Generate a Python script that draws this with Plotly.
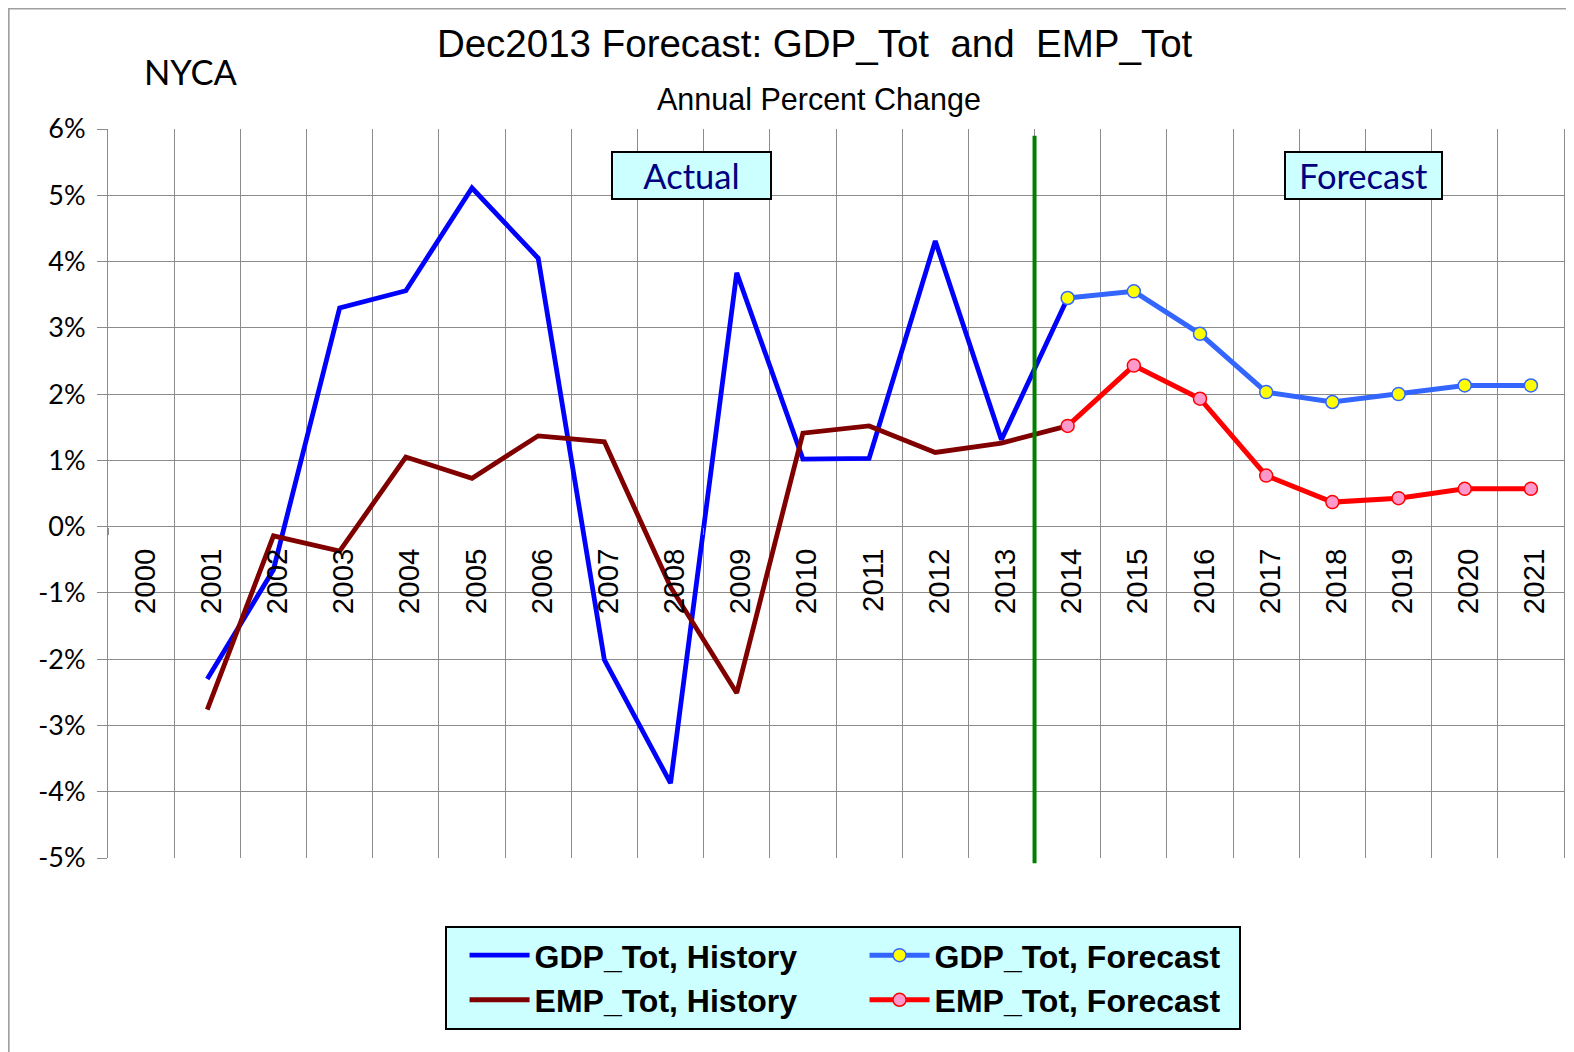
import plotly.graph_objects as go

# ---------------- data ----------------
years = ["2000", "2001", "2002", "2003", "2004", "2005", "2006", "2007", "2008", "2009", "2010",
         "2011", "2012", "2013", "2014", "2015", "2016", "2017", "2018", "2019", "2020", "2021"]

gdp_history = [None, -2.30, -0.65, 3.30, 3.56, 5.11, 4.05, -2.01, -3.87, 3.83, 1.02,
               1.03, 4.31, 1.31, 3.45, None, None, None, None, None, None, None]
emp_history = [None, -2.76, -0.14, -0.37, 1.05, 0.73, 1.37, 1.28, -0.91, -2.51, 1.41,
               1.52, 1.12, 1.26, 1.52, None, None, None, None, None, None, None]
gdp_forecast = [None, None, None, None, None, None, None, None, None, None, None,
                None, None, None, 3.45, 3.55, 2.91, 2.03, 1.88, 2.00, 2.13, 2.13]
emp_forecast = [None, None, None, None, None, None, None, None, None, None, None,
                None, None, None, 1.52, 2.43, 1.93, 0.77, 0.37, 0.43, 0.57, 0.57]

y_tick_vals = [-5, -4, -3, -2, -1, 0, 1, 2, 3, 4, 5, 6]
y_tick_text = ["-5%", "-4%", "-3%", "-2%", "-1%", "0%", "1%", "2%", "3%", "4%", "5%", "6%"]
y_min, y_max = -5, 6
split_between = ("2013", "2014")   # actual / forecast divider

title_text = "Dec2013 Forecast: GDP_Tot\u00a0\u00a0and\u00a0\u00a0EMP_Tot"
subtitle_text = "Annual Percent Change"
region_text = "NYCA"

# ---------------- layout geometry (page px; html body has an 8px margin) ----------------
OFF = 8
W, H = 1574 - OFF, 1052 - OFF
PL, PR, PT, PB = 108.3, 1563.6, 129.3, 857.7          # plot area in page px
L, T = PL - OFF, PT - OFF
R, B = W - (PR - OFF), H - (PB - OFF)

CALI = "Lato, Carlito, Calibri, 'Open Sans', sans-serif"
NARROW = "'Liberation Sans Narrow', 'Arial Narrow', 'Liberation Sans', Arial, sans-serif"
ARIAL = "'Liberation Sans', Arial, sans-serif"

plot_h = PB - PT
plot_w = PR - PL

def py(pix):   # page y px -> paper fraction
    return (PB - pix) / plot_h

def px(pix):   # page x px -> paper fraction
    return (pix - PL) / plot_w

fig = go.Figure()

fig.add_trace(go.Scatter(
    x=years, y=gdp_history, name="GDP_Tot, History", mode="lines",
    line=dict(color="#0000FF", width=4.8), legendgroup="hist", legendwidth=305))
fig.add_trace(go.Scatter(
    x=years, y=emp_history, name="EMP_Tot, History", mode="lines",
    line=dict(color="#800000", width=4.8), legendgroup="hist", legendwidth=305))
fig.add_trace(go.Scatter(
    x=years, y=gdp_forecast, name="GDP_Tot, Forecast", mode="lines+markers",
    line=dict(color="#3366FF", width=5),
    marker=dict(symbol="circle", size=13, color="#FFFF00", line=dict(color="#3366FF", width=1.5)),
    legendgroup="fc", legendwidth=299))
fig.add_trace(go.Scatter(
    x=years, y=emp_forecast, name="EMP_Tot, Forecast", mode="lines+markers",
    line=dict(color="#FF0000", width=5),
    marker=dict(symbol="circle", size=13, color="#FF99CC", line=dict(color="#FF0000", width=1.5)),
    legendgroup="fc", legendwidth=299))

split_x = (years.index(split_between[0]) + years.index(split_between[1])) / 2.0

fig.update_layout(
    width=W, height=H,
    margin=dict(l=L, r=R, t=T, b=B, autoexpand=False),
    paper_bgcolor="white", plot_bgcolor="white",
    showlegend=True,
    title=dict(text=title_text, x=(814.6 - OFF) / W, xanchor="center",
               y=1 - (43.2 - OFF) / H, yanchor="middle",
               font=dict(family=NARROW, size=38.5, color="black")),
    xaxis=dict(
        type="category", categoryorder="array", categoryarray=years,
        range=[-0.5, len(years) - 0.5],
        tickson="boundaries", showgrid=True, gridcolor="#8c8c8c", gridwidth=1,
        anchor="free", position=(0 - y_min) / (y_max - y_min),
        tickangle=-90, ticks="outside", ticklen=7, tickcolor="#8c8c8c",
        ticklabelstandoff=15, ticklabelshift=4,
        tickfont=dict(family=ARIAL, size=29.5, color="black"),
        showline=False, zeroline=False, fixedrange=True,
    ),
    yaxis=dict(
        range=[y_min, y_max], tickvals=y_tick_vals, ticktext=y_tick_text,
        showgrid=True, gridcolor="#8c8c8c", gridwidth=1,
        zeroline=True, zerolinecolor="#8c8c8c", zerolinewidth=1,
        showline=True, linecolor="#8c8c8c", linewidth=1, mirror=True,
        ticks="outside", ticklen=10, tickcolor="#8c8c8c",
        ticklabelstandoff=6,
        tickfont=dict(family=CALI, size=27, color="black"),
        fixedrange=True,
    ),
    legend=dict(
        orientation="h", traceorder="grouped",
        x=px(444.7), xanchor="left", y=py(925.5), yanchor="top",
        bgcolor="#CCFFFF", bordercolor="black", borderwidth=2,
        font=dict(family=NARROW, size=32, color="black", weight="bold"),
        itemwidth=60, indentation=20, entrywidthmode="pixels",
        tracegroupgap=0,
    ),
    shapes=[
        dict(type="line", xref="x", yref="paper", x0=split_x, x1=split_x,
             y0=py(863), y1=py(136), line=dict(color="#008000", width=4), layer="above"),
        dict(type="rect", xref="paper", yref="paper", x0=px(OFF + 1), x1=px(1600),
             y0=py(1100), y1=py(OFF + 1), line=dict(color="#a0a0a0", width=2), layer="below"),
    ],
    annotations=[
        dict(text=subtitle_text, xref="paper", yref="paper", x=px(819), y=py(99.4),
             xanchor="center", yanchor="middle", showarrow=False,
             font=dict(family=NARROW, size=30.5, color="black")),
        dict(text=region_text, xref="paper", yref="paper", x=px(191.7), y=py(72.3),
             xanchor="center", yanchor="middle", showarrow=False,
             font=dict(family=CALI, size=34.5, color="black")),
        dict(text="Actual", xref="paper", yref="paper", x=px(691.1), y=py(176.2),
             xanchor="center", yanchor="middle", showarrow=False,
             width=157, height=45, bgcolor="#CCFFFF", bordercolor="black", borderwidth=2, borderpad=0,
             font=dict(family=CALI, size=34.5, color="#000080")),
        dict(text="Forecast", xref="paper", yref="paper", x=px(1362.7), y=py(176.2),
             xanchor="center", yanchor="middle", showarrow=False,
             width=155, height=45, bgcolor="#CCFFFF", bordercolor="black", borderwidth=2, borderpad=0,
             font=dict(family=CALI, size=34.5, color="#000080")),
    ],
)

fig.write_html("out.html")
